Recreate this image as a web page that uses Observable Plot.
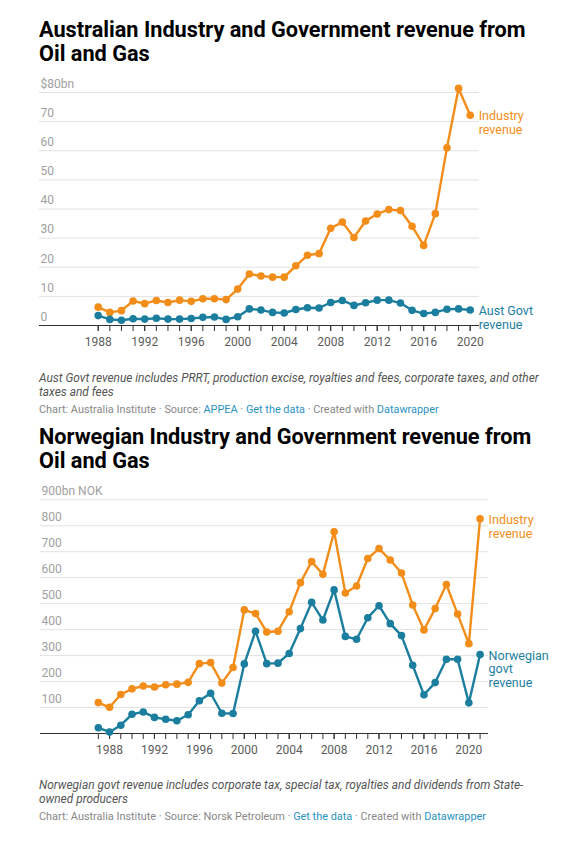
<!DOCTYPE html>
<html>
<head>
<meta charset="utf-8">
<script src="https://cdn.jsdelivr.net/npm/d3@7"></script>
<script src="https://cdn.jsdelivr.net/npm/@observablehq/plot@0.6"></script>
<style>
  body { margin: 0; background: #fff; font-family: Roboto, sans-serif; }
  .title { margin: 0 0 0 39px; font-size: 21.7px; line-height: 24px; font-weight: 700; color: #000; white-space: nowrap; }
  .note { margin: 0 0 0 39px; font-size: 11.9px; line-height: 14px; font-style: italic; color: #555; white-space: nowrap; }
  .credit { margin: 4px 0 0 39px; font-size: 10.9px; line-height: 14px; color: #888; white-space: nowrap; }
  .credit a { color: #2a93bf; text-decoration: none; }
  svg { display: block; }
</style>
</head>
<body>
<div class="title" style="margin-top:18px">Australian Industry and Government revenue from<br>Oil and Gas</div>
<div id="au" style="margin-top:4px"></div>
<div class="note" style="margin-top:16px">Aust Govt revenue includes PRRT, production excise, royalties and fees, corporate taxes, and other<br>taxes and fees</div>
<div class="credit">Chart: Australia Institute · Source: <a>APPEA</a> · <a>Get the data</a> · Created with <a>Datawrapper</a></div>
<div class="title" style="margin-top:8px">Norwegian Industry and Government revenue from<br>Oil and Gas</div>
<div id="no" style="margin-top:5px"></div>
<div class="note" style="margin-top:15px">Norwegian govt revenue includes corporate tax, special tax, royalties and dividends from State-<br>owned producers</div>
<div class="credit">Chart: Australia Institute · Source: Norsk Petroleum · <a>Get the data</a> · Created with <a>Datawrapper</a></div>
<script>
// Australia, $bn, 1988-2020
const auYears = d3.range(1988, 2021);
const auIndustry = [6.3, 4.5, 5.1, 8.4, 7.5, 8.6, 7.9, 8.7, 8.3, 9.2, 9.2, 8.9, 12.5, 17.7, 17.0, 16.6, 16.6,
  20.5, 24.1, 24.7, 33.4, 35.5, 30.2, 35.9, 38.3, 39.8, 39.5, 34.1, 27.5, 38.4, 61.0, 81.4, 72.2];
const auGovt = [3.4, 2.1, 1.8, 2.3, 2.2, 2.5, 2.2, 2.2, 2.4, 2.8, 2.9, 2.1, 3.0, 5.7, 5.3, 4.5, 4.3,
  5.5, 6.1, 6.0, 7.9, 8.6, 6.9, 7.8, 8.7, 8.7, 7.7, 5.2, 4.1, 4.5, 5.6, 5.7, 5.3];
const auYTicks = [0, 10, 20, 30, 40, 50, 60, 70, 80];

// Norway, bn NOK, 1987-2021
const noYears = d3.range(1987, 2022);
const noIndustry = [119, 101, 150, 172, 183, 179, 188, 190, 197, 269, 273, 194, 254, 476, 462, 391, 394,
  469, 581, 662, 613, 777, 541, 568, 674, 712, 668, 618, 495, 399, 481, 574, 460, 346, 827];
const noGovt = [22, 6, 32, 74, 83, 62, 55, 49, 72, 126, 155, 78, 77, 268, 394, 269, 271,
  308, 404, 505, 437, 553, 374, 363, 446, 492, 423, 377, 263, 149, 196, 286, 286, 118, 304];
const noYTicks = [100, 200, 300, 400, 500, 600, 700, 800, 900];

const xLabelYears = [1988, 1992, 1996, 2000, 2004, 2008, 2012, 2016, 2020];

const orange = "#f38d1a";
const blue = "#1b7e9f";

function chart(o) {
  const ind = o.years.map((year, i) => ({year, value: o.industry[i]}));
  const gov = o.years.map((year, i) => ({year, value: o.govt[i]}));
  const series = [[ind, orange, o.indLabel], [gov, blue, o.govLabel]];
  return Plot.plot({
    width: 568,
    height: 285,
    marginLeft: o.left,
    marginRight: 568 - o.right,
    marginTop: o.top,
    marginBottom: 30,
    x: {domain: o.xDomain},
    y: {domain: o.yDomain},
    style: {fontFamily: "Roboto, sans-serif", fontSize: "12px", background: "#fff"},
    marks: [
      Plot.gridY(o.yTicks, {stroke: "#e2e2e2", strokeOpacity: 1}),
      Plot.axisY(o.yTicks, {tickSize: 0, tickPadding: 0, textAnchor: "start", dx: 1, dy: -8.5,
        fill: "#a0a0a0", fontSize: 12, tickFormat: o.yFormat, label: null}),
      Plot.axisX(o.years, {tickSize: 6, tickFormat: () => "", stroke: "#333", label: null}),
      Plot.axisX(xLabelYears, {tickSize: 6, tickPadding: 6, tickFormat: d => String(d),
        stroke: "#333", fill: "#5c5c5c", fontSize: 12, label: null}),
      Plot.ruleY([0], {stroke: "#333", strokeWidth: 1.2}),
      ...series.flatMap(([rows, color, label]) => [
        Plot.line(rows, {x: "year", y: "value", stroke: color, strokeWidth: 2.4}),
        Plot.dot(rows, {x: "year", y: "value", fill: color, r: 3.8}),
        Plot.text(rows, Plot.selectLast({x: "year", y: "value", text: () => label, fill: color,
          textAnchor: "start", lineAnchor: "top", dx: 8.5, dy: -5, fontSize: 12.5, lineHeight: 1.12}))
      ])
    ]
  });
}

document.getElementById("au").append(chart({
  years: auYears, industry: auIndustry, govt: auGovt,
  indLabel: "Industry\nrevenue", govLabel: "Aust Govt\nrevenue",
  left: 39, right: 479, top: 22,
  xDomain: [1982.95, 2020.8], yDomain: [0, 80], yTicks: auYTicks,
  yFormat: d => d === 80 ? "$80bn" : String(d)
}));

document.getElementById("no").append(chart({
  years: noYears, industry: noIndustry, govt: noGovt,
  indLabel: "Industry\nrevenue", govLabel: "Norwegian\ngovt\nrevenue",
  left: 40, right: 488, top: 21.3,
  xDomain: [1981.85, 2021.75], yDomain: [0, 900], yTicks: noYTicks,
  yFormat: d => d === 900 ? "900bn NOK" : String(d)
}));
</script>
</body>
</html>
